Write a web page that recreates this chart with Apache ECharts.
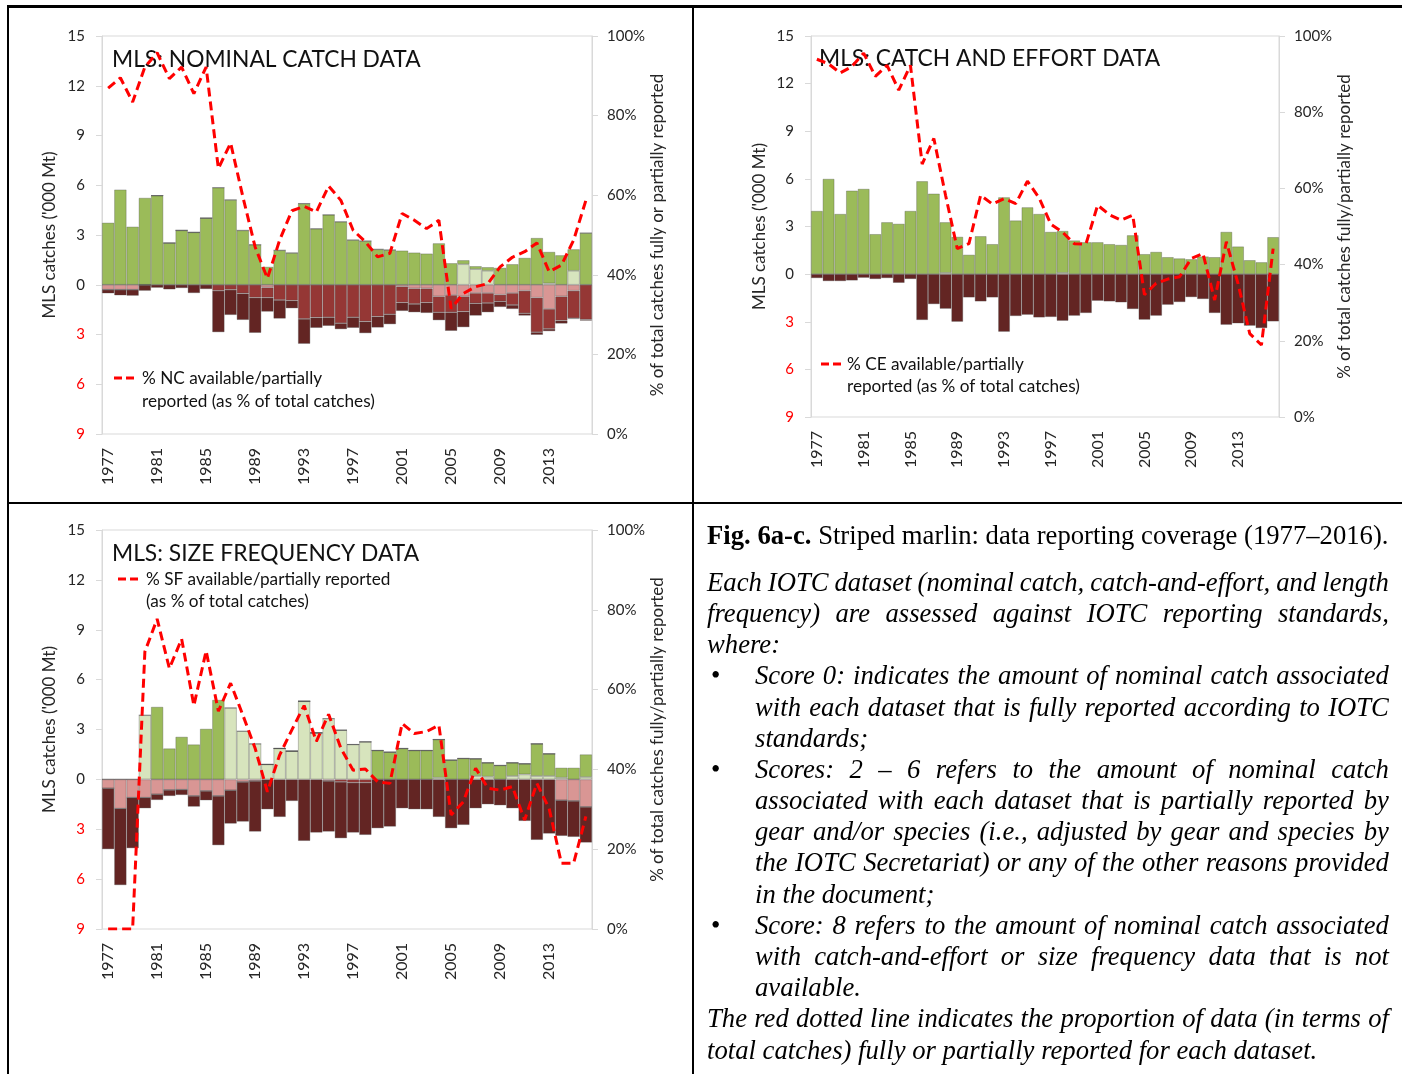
<!DOCTYPE html>
<html><head><meta charset="utf-8">
<script src="https://cdn.jsdelivr.net/npm/echarts@6/dist/echarts.min.js"></script>
<style>
html,body{margin:0;padding:0;background:#fff;}
#chart{position:absolute;left:0;top:0;width:1402px;height:1074px;}
.ln{position:absolute;background:#000;}
#cap{position:absolute;left:707px;top:519px;width:703px;transform:scaleX(0.97);transform-origin:0 0;font-family:"Liberation Serif","Times New Roman",serif;font-size:27.5px;color:#000;}
#cap div{position:relative;height:31.2px;line-height:31.2px;white-space:normal;}
#cap .j{text-align:justify;text-align-last:justify;word-spacing:-4px;}
#cap .i{font-style:italic;}
#cap .ind{padding-left:49.5px;}
#cap .b{position:absolute;left:4px;top:0;font-style:normal;}
</style></head>
<body>
<div id="chart"></div>
<div class="ln" style="left:7px;top:5px;width:1395px;height:3px"></div>
<div class="ln" style="left:7px;top:5px;width:2px;height:1069px"></div>
<div class="ln" style="left:692px;top:5px;width:2px;height:1069px"></div>
<div class="ln" style="left:7px;top:502px;width:1395px;height:2px"></div>
<div id="cap">
<div style="margin-bottom:15.6px"><b>Fig. 6a-c.</b> Striped marlin: data reporting coverage (1977–2016).</div>
<div class="i j">Each IOTC dataset (nominal catch, catch-and-effort, and length</div>
<div class="i j">frequency) are assessed against IOTC reporting standards,</div>
<div class="i">where:</div>
<div class="i j ind"><span class="b">•</span>Score 0: indicates the amount of nominal catch associated</div>
<div class="i j ind">with each dataset that is fully reported according to IOTC</div>
<div class="i ind">standards;</div>
<div class="i j ind"><span class="b">•</span>Scores: 2 – 6 refers to the amount of nominal catch</div>
<div class="i j ind">associated with each dataset that is partially reported by</div>
<div class="i j ind">gear and/or species (i.e., adjusted by gear and species by</div>
<div class="i j ind">the IOTC Secretariat) or any of the other reasons provided</div>
<div class="i ind">in the document;</div>
<div class="i j ind"><span class="b">•</span>Score: 8 refers to the amount of nominal catch associated</div>
<div class="i j ind">with catch-and-effort or size frequency data that is not</div>
<div class="i ind">available.</div>
<div class="i j">The red dotted line indicates the proportion of data (in terms of</div>
<div class="i">total catches) fully or partially reported for each dataset.</div>
</div>
<script>
const years = ['1977','1978','1979','1980','1981','1982','1983','1984','1985','1986','1987','1988','1989','1990','1991','1992','1993','1994','1995','1996','1997','1998','1999','2000','2001','2002','2003','2004','2005','2006','2007','2008','2009','2010','2011','2012','2013','2014','2015','2016'];
const leftTicks = [-9,-6,-3,0,3,6,9,12,15];
const rightTicks = ['0%','20%','40%','60%','80%','100%'];

// Chart a: nominal catch ('000 t); negative values plotted below zero
const ncLight = [0,0,0,0,0,0,0,0,0,0, 0,0,0,0,0,0,0,0,0,0, 0,0,0,0,0,0,0,0,0,1.24, 0.94,0.84,0,0,0,0,0.08,0,0.84,0];
const ncGreen = [3.74,5.74,3.5,5.24,5.38,2.52,3.28,3.16,4.02,5.86, 5.12,3.28,2.42,1.08,2.08,1.92,4.9,3.38,4.22,3.8, 2.7,2.64,2.14,2.1,2.06,1.94,1.88,2.5,1.3,0.24, 0.18,0.22,1.02,1.24,1.62,2.82,1.9,1.78,1.3,3.12];
const ncPink = [-0.3,-0.3,-0.3,-0.02,0,0,0,0,0,0, 0,0,0,-0.16,0,0,0,0,0,0, 0,0,0,0,-0.1,-0.22,-0.22,-0.7,-0.62,-0.7, -0.5,-0.5,-0.6,-0.5,-0.36,-0.78,-1.46,-0.7,-0.36,0];
const ncMed = [0,0,0,0,0,0,0,0,0,-0.36, -0.3,-0.52,-0.78,-0.62,-0.92,-0.96,-2.06,-1.98,-1.96,-2.32, -1.96,-2.22,-1.92,-1.78,-0.98,-0.94,-0.86,-0.96,-1.04,-0.92, -0.62,-0.6,-0.4,-0.72,-1.36,-2.08,-1.2,-1.46,-1.66,-2.1];
const ncDark = [-0.22,-0.34,-0.36,-0.34,-0.18,-0.28,-0.2,-0.5,-0.26,-2.5, -1.52,-1.6,-2.12,-0.84,-1.12,-0.46,-1.5,-0.62,-0.52,-0.36, -0.64,-0.7,-0.66,-0.6,-0.5,-0.5,-0.62,-0.48,-1.12,-0.94, -0.74,-0.56,-0.34,-0.24,-0.14,-0.16,-0.14,-0.18,-0.04,-0.06];
const ncPct = [86.9,89.5,83.4,92.2,95.8,89.3,92.2,85.5,92.2,66.7, 73.1,59.6,47,39.1,48.7,56.1,57.2,55.8,62.3,58.7, 51.2,48.3,44.5,45.4,55.4,53.7,51.6,53.7,31.5,35.3, 37,37.8,42,44.4,45.8,48,40.8,42.4,48.7,58.7];

// Chart b: catch and effort
const ceLight = [0,0,0,0,0,0,0,0,0,0, 0,0.08,0,0,0,0,0,0,0,0, 0,0.08,0,0,0,0,0,0,0,0, 0,0,0,0,0,0,0,0,0,0];
const ceGreen = [3.98,6.0,3.79,5.26,5.37,2.52,3.27,3.17,3.98,5.85, 5.07,3.19,2.35,1.22,2.39,1.89,4.84,3.38,4.21,3.79, 2.66,2.64,2.12,2.01,2.01,1.89,1.84,2.45,1.26,1.4, 1.07,0.99,0.94,1.11,1.07,2.66,1.74,0.88,0.75,2.33];
const ceDark = [-0.25,-0.44,-0.44,-0.4,-0.23,-0.31,-0.25,-0.55,-0.31,-2.89, -1.89,-2.18,-3.0,-1.47,-1.72,-1.47,-3.63,-2.64,-2.56,-2.73, -2.7,-2.94,-2.62,-2.45,-1.68,-1.72,-1.78,-2.2,-2.87,-2.62, -1.93,-1.76,-1.45,-1.57,-2.45,-3.19,-3.1,-3.25,-3.4,-2.98];
const cePct = [93.9,92.7,90.3,92.0,95.5,89.4,92.3,85.8,92.3,66.4, 73.1,58.2,44.2,45.5,58.2,55.9,57.3,56.0,61.9,57.5, 50.6,48.5,45.5,45.4,55.6,53.1,51.7,53.0,32.1,35.1, 36.2,36.8,41.6,42.9,30.7,46.0,35,21.9,18.9,44.2];

// Chart c: size frequency
const sfLight = [0,0,0,3.86,0,0,0,0,0,0, 4.3,2.9,2.14,0.9,1.86,1.7,4.7,2.8,3.66,2.96, 2.1,2.26,0,0,0,0,0,0.1,0,0, 0.2,0.16,0,0.2,0.3,0.2,0.2,0.1,0,0.14];
const sfGreen = [0,0,0,0,4.36,1.86,2.56,2.1,3.04,4.78, 0,0,0,0,0,0,0,0,0,0, 0,0,1.74,1.64,1.86,1.74,1.74,2.3,1.16,1.26, 1.04,0.84,0.84,0.8,0.64,1.94,1.34,0.6,0.7,1.36];
const sfPink = [-0.54,-1.76,-1.1,-1.1,-0.9,-0.64,-0.62,-1.0,-0.7,-1.0, -0.66,-0.16,-0.1,0,0,0,0,0,-0.1,0, 0,0,0,0,0,0,0,0,0,0, 0,0,0,0,0,0,0,-1.26,-1.3,-1.66];
const sfMed = [0,0,0,0,0,0,0,0,0,0, 0,0,0,0,0,0,0,0,0,-0.15, -0.2,-0.2,0,0,0,0,0,0,0,0, 0,0,0,0,0,0,0,0,0,0];
const sfDark = [-3.66,-4.6,-3.04,-0.64,-0.34,-0.36,-0.32,-0.64,-0.56,-2.96, -2.0,-2.38,-3.04,-1.8,-2.26,-1.3,-3.7,-3.2,-3.04,-3.39, -3.0,-3.14,-2.94,-2.84,-1.74,-1.8,-1.8,-2.26,-2.94,-2.74, -1.74,-1.5,-1.56,-1.74,-2.5,-3.64,-3.26,-2.14,-2.16,-2.14];
const sfPct = [0,0,0,69.5,77.7,65.3,72.7,56,69.7,54.6, 61.6,53.6,45.3,34.4,43.6,49.9,56,47,53.8,45.3, 39.8,40.1,36.9,36.5,51.5,49,49.5,51.1,28.6,31.9, 40.3,35.3,34.8,35.7,27.3,36.5,30.2,16.5,16.5,28.2];

const FONT = 'Lato';
const C_LIGHT='#d7e4bd', C_GREEN='#9bbb59', C_PINK='#d99694', C_MED='#953735', C_DARK='#632523', C_LINE='#ff0000';
const AX='#d9d9d9', TXT='#262626';

const panels = [
  {grid:{left:102,top:36,width:490,height:398}, light:ncLight, green:ncGreen, pink:ncPink, med:ncMed, dark:ncDark, pct:ncPct,
   lname:"MLS catches ('000 Mt)", rname:'% of total catches fully or partially reported', lgap:44, rgap:52},
  {grid:{left:811,top:36,width:468,height:381}, light:ceLight, green:ceGreen, pink:null, med:null, dark:ceDark, pct:cePct,
   lname:"MLS catches ('000 Mt)", rname:'% of total catches fully/partially reported', lgap:43, rgap:48},
  {grid:{left:102,top:530,width:490,height:399}, light:sfLight, green:sfGreen, pink:sfPink, med:sfMed, dark:sfDark, pct:sfPct,
   lname:"MLS catches ('000 Mt)", rname:'% of total catches fully/partially reported', lgap:44, rgap:52}
];

const grid=[], xAxis=[], yAxis=[], series=[];
const barStyle = c => ({color:c, borderColor:'rgba(70,70,70,0.45)', borderWidth:0.7});
panels.forEach((p,i)=>{
  grid.push(Object.assign({show:true, borderColor:AX, borderWidth:1, backgroundColor:'transparent'}, p.grid));
  xAxis.push({type:'category', gridIndex:i, data:years, boundaryGap:true,
    axisLine:{show:false}, axisTick:{show:false},
    axisLabel:{interval:3, rotate:90, margin:14, fontFamily:FONT, fontSize:16, color:TXT}});
  yAxis.push({type:'value', gridIndex:i, position:'left', min:leftTicks[0], max:leftTicks[leftTicks.length-1], interval:3,
    splitLine:{show:false}, axisLine:{show:true, lineStyle:{color:AX}},
    axisTick:{show:true, length:6, lineStyle:{color:AX}},
    axisLabel:{margin:17, fontFamily:FONT, fontSize:15, formatter:v=>String(Math.abs(v)), color:v=>(v<0?'#ff0000':TXT)},
    name:p.lname, nameLocation:'middle', nameRotate:90, nameGap:p.lgap, nameTextStyle:{fontFamily:FONT, fontSize:17, color:TXT}});
  yAxis.push({type:'value', gridIndex:i, position:'right', min:0, max:100, interval:20,
    splitLine:{show:false}, axisLine:{show:true, lineStyle:{color:AX}},
    axisTick:{show:true, length:6, lineStyle:{color:AX}},
    axisLabel:{margin:15, fontFamily:FONT, fontSize:15, color:TXT, formatter:v=>rightTicks[Math.round(v/20)]},
    name:p.rname, nameLocation:'middle', nameRotate:90, nameGap:p.rgap, nameTextStyle:{fontFamily:FONT, fontSize:17, color:TXT}});
  const xi=i, yl=i*2, yr=i*2+1;
  const addBar=(data,c)=>{ if(!data) return; series.push({type:'bar', xAxisIndex:xi, yAxisIndex:yl, stack:'s'+i, data:data, barCategoryGap:'0%', itemStyle:barStyle(c), silent:true, z:2}); };
  addBar(p.light,C_LIGHT); addBar(p.green,C_GREEN); addBar(p.pink,C_PINK); addBar(p.med,C_MED); addBar(p.dark,C_DARK);
  series.push({type:'line', xAxisIndex:xi, yAxisIndex:yr, data:p.pct, symbol:'none', z:5,
    lineStyle:{color:C_LINE, width:3, type:[9,5]}});
});

const T=(x,y,t,size)=>({type:'text', x:x, y:y, style:{text:t, fontFamily:FONT, fontSize:size, fill:'#111', verticalAlign:'middle'}});
const dash=(x1,x2,y)=>({type:'line', shape:{x1:x1,y1:y,x2:x2,y2:y}, style:{stroke:C_LINE, lineWidth:3, lineDash:[8,4]}});
const graphic=[
  T(112,60,'MLS: NOMINAL CATCH DATA',22.8),
  T(819,59,'MLS: CATCH AND EFFORT DATA',22.8),
  T(112,554,'MLS: SIZE FREQUENCY DATA',22.8),
  dash(114,138,378), T(142,378,'% NC available/partially',17.2), T(142,401,'reported (as % of total catches)',17.2),
  dash(821,845,364), T(847,364,'% CE available/partially',17.2), T(847,386,'reported (as % of total catches)',17.2),
  dash(118,142,579), T(146,579,'% SF available/partially reported',17.2), T(146,601,'(as % of total catches)',17.2)
];

const chart = echarts.init(document.getElementById('chart'), null, {renderer:'canvas'});
chart.setOption({animation:false, backgroundColor:'#fff', grid, xAxis, yAxis, series, graphic});
</script>
</body></html>
